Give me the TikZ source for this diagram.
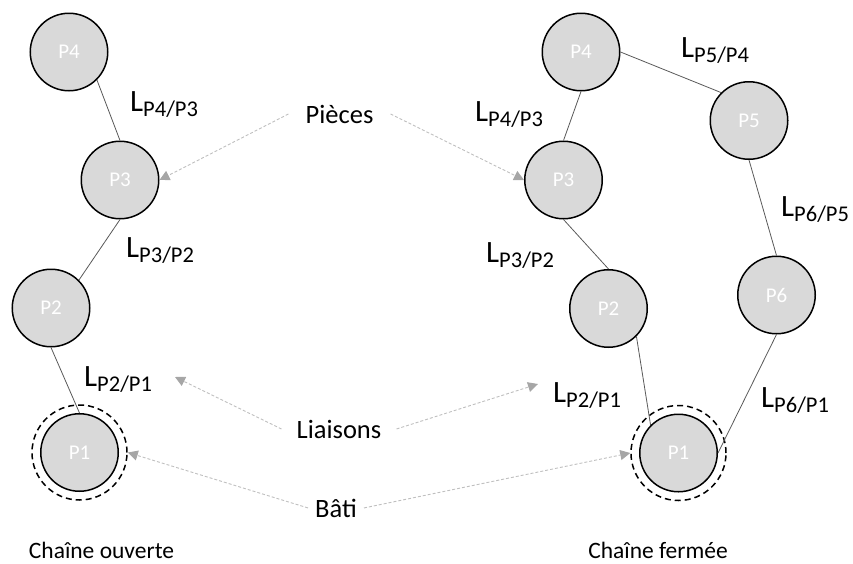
\documentclass[tikz,border=0pt]{standalone}
\usepackage{fontspec}
\setmainfont{Carlito}
\usetikzlibrary{arrows.meta}
\definecolor{grayfill}{HTML}{D9D9D9}
\definecolor{linkgray}{HTML}{595959}
\definecolor{arrowgray}{HTML}{BFBFBF}
\definecolor{tipgray}{HTML}{A6A6A6}
\newcommand{\Llab}[1]{{\fontsize{31}{31}\selectfont L}\raisebox{-5pt}{\fontsize{22.5}{22.5}\selectfont #1}}
\begin{document}
\begin{tikzpicture}[x=1pt,y=-1pt,
  piece/.style={circle, draw=black, line width=1.5pt, fill=grayfill, minimum size=77.5pt, inner sep=0pt, text=white, font=\fontsize{21}{21}\selectfont},
  bati/.style={circle, draw=black, dash pattern=on 6pt off 4pt, line width=1.5pt, minimum size=95pt, inner sep=0pt},
  link/.style={draw=linkgray, line width=0.8pt},
  pointer/.style={draw=arrowgray, line width=0.9pt, dash pattern=on 3pt off 2pt, -{Triangle[length=10pt,width=10pt,fill=tipgray,color=tipgray]}},
  lab/.style={font=\fontsize{26.5}{26.5}\selectfont, inner ysep=0pt, anchor=base},
  llab/.style={inner sep=0pt, anchor=base west},
  captxt/.style={font=\fontsize{23.5}{23.5}\selectfont, inner sep=0pt, anchor=base},
]
\useasboundingbox (0,0) rectangle (853,563);

% open chain
\node[piece] (a4) at (69,52) {P4};
\node[piece] (a3) at (120,180) {P3};
\node[piece] (a2) at (51,308) {P2};
\node[piece] (a1) at (79.5,452.5) {P1};
\node[bati] (ab) at (79.5,452.5) {};

\draw[link] (a4.south east) -- (a3.north);
\draw[link] (a3.south) -- (a2.north east);
\draw[link] (a2.south) -- (a1.north);

% closed chain
\node[piece] (b4) at (581,52) {P4};
\node[piece] (b5) at (749,120.5) {P5};
\node[piece] (b3) at (563.5,180) {P3};
\node[piece] (b2) at (608.5,308.5) {P2};
\node[piece] (b6) at (776.5,295) {P6};
\node[piece] (b1) at (678.5,453) {P1};
\node[bati] (bb) at (678.5,453) {};

\draw[link] (b4.south) -- (b3.north);
\draw[link] (b4.east) -- (b5.north west);
\draw[link] (b3.south) -- (b2.north);
\draw[link] (b5.south) -- (b6.north);
\draw[link] (b2.south east) -- (b1.north west);
\draw[link] (b6.south) -- (b1.east);

% link labels
\node[llab] (la43) at (130,111) {\Llab{P4/P3}};
\node[llab] (la32) at (126,257) {\Llab{P3/P2}};
\node[llab] (la21) at (84,386) {\Llab{P2/P1}};
\node[llab] (lb54) at (681,57) {\Llab{P5/P4}};
\node[llab] (lb43) at (475,121) {\Llab{P4/P3}};
\node[llab] (lb65) at (781,216) {\Llab{P6/P5}};
\node[llab] (lb32) at (486,262) {\Llab{P3/P2}};
\node[llab] (lb21) at (553,402) {\Llab{P2/P1}};
\node[llab] (lb61) at (761,407) {\Llab{P6/P1}};

% category labels
\node[lab, inner xsep=17pt] (pieces) at (339.5,123) {Pièces};
\node[lab, inner xsep=15pt] (liaisons) at (339,438) {Liaisons};
\node[lab, inner xsep=7pt] (batit) at (336,517) {Bâti};

\coordinate (tipA) at (175,377);
\coordinate (tipB) at (538,384);

\draw[pointer] (pieces.west) -- (a3.east);
\draw[pointer] (pieces.east) -- (b3.west);
\draw[pointer] (liaisons.west) -- (tipA);
\draw[pointer] (liaisons.east) -- (tipB);
\draw[pointer] (batit.west) -- (ab.east);
\draw[pointer] (batit.east) -- (bb.west);

% captions
\node[captxt] (c1) at (101.5,558) {Chaîne ouverte};
\node[captxt] (c2) at (658,558) {Chaîne fermée};
\end{tikzpicture}
\end{document}
